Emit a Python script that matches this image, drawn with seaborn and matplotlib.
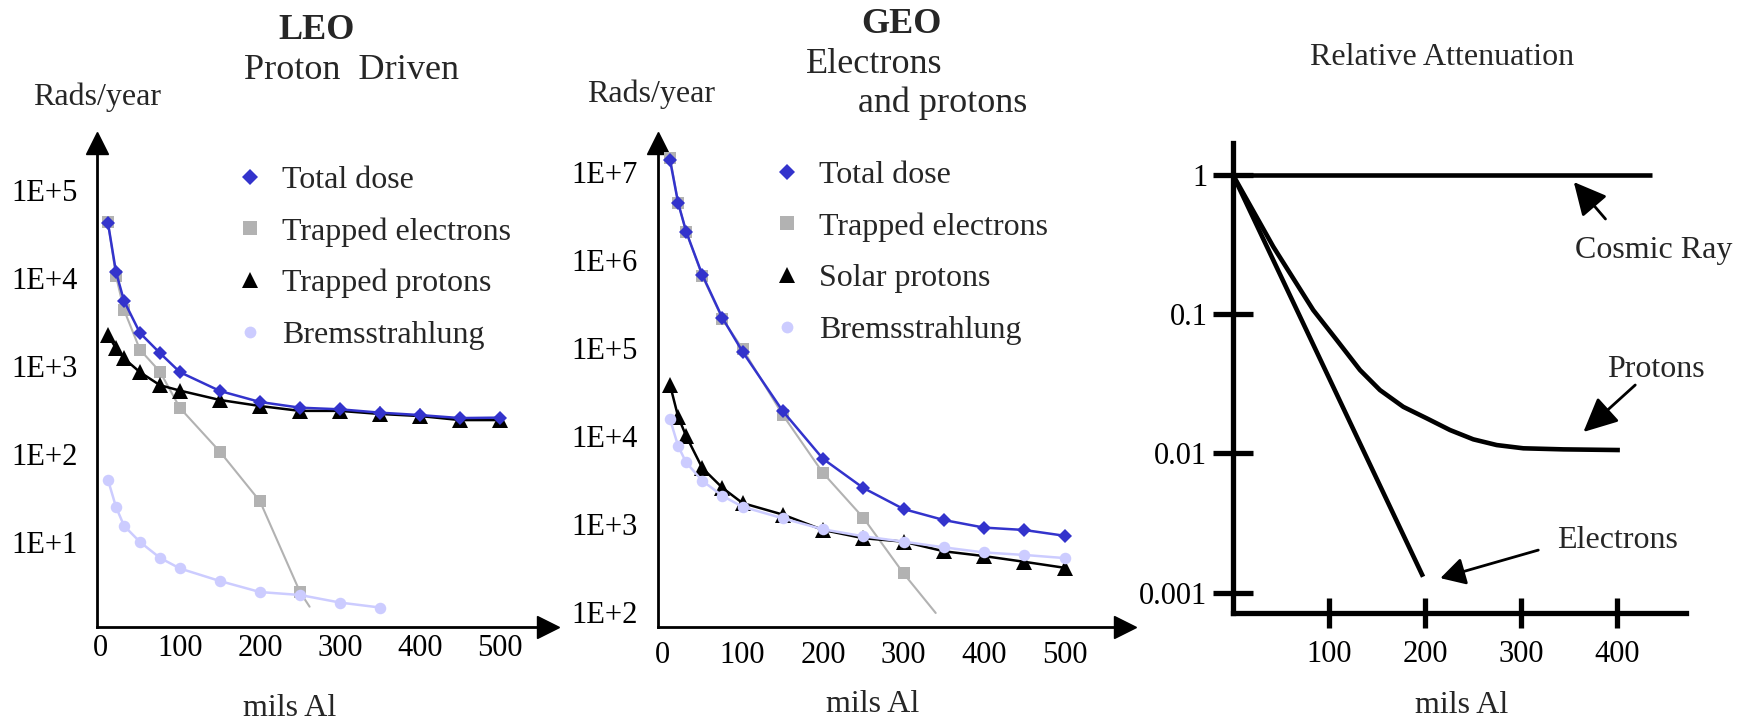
import numpy as np
import matplotlib
matplotlib.use("Agg")
import matplotlib.pyplot as plt
from matplotlib.lines import Line2D
import seaborn as sns

# ---------------- data ----------------
mils = [10, 20, 30, 50, 75, 100, 150, 200, 250, 300, 350, 400, 450, 500]

leo_total = [42000, 11700, 5500, 2370, 1400, 850, 520, 390, 336, 322, 295, 277, 256, 259]
leo_trap_e_x = [10, 20, 30, 50, 75, 100, 150, 200, 250, 262]
leo_trap_e = [43000, 10500, 4350, 1530, 860, 333, 106, 29, 2.7, 1.84]
leo_trap_p = [2250, 1590, 1220, 850, 605, 525, 411, 351, 309, 309, 285, 270, 243, 243]
leo_brems_x = [10, 20, 30, 50, 75, 100, 150, 200, 250, 300, 350]
leo_brems = [50.7, 25, 15.3, 10, 6.6, 5.0, 3.6, 2.7, 2.5, 2.05, 1.8]

geo_total = [1.36e7, 4.47e6, 2.1e6, 6.8e5, 2.2e5, 9.1e4, 1.92e4, 5500, 2570, 1480, 1110, 910, 855, 735]
geo_trap_e_x = [10, 20, 30, 50, 75, 100, 150, 200, 250, 300, 340]
geo_trap_e = [1.45e7, 4.5e6, 2.1e6, 6.6e5, 2.15e5, 9.8e4, 1.74e4, 3800, 1180, 275, 97.5]
geo_solar_p = [38000, 16600, 10000, 4330, 2580, 1730, 1280, 855, 690, 630, 490, 432, 372, 318]
geo_brems = [15500, 7700, 5000, 3100, 2090, 1570, 1160, 870, 725, 630, 543, 475, 445, 410]

leo_yticks = [1e1, 1e2, 1e3, 1e4, 1e5]
leo_yticklabels = ["1E+1", "1E+2", "1E+3", "1E+4", "1E+5"]
geo_yticks = [1e2, 1e3, 1e4, 1e5, 1e6, 1e7]
geo_yticklabels = ["1E+2", "1E+3", "1E+4", "1E+5", "1E+6", "1E+7"]
dose_xticks = [0, 100, 200, 300, 400, 500]

att_cosmic_x = [20, 436]
att_cosmic = [1, 1]
att_electron_x = [0, 198]
att_electron = [1, 0.0013]
att_proton_x = [0, 42, 83.6, 108, 132.3, 153.1, 177.4, 201.8, 226, 250.3, 274.7, 302.4, 344, 403]
att_proton = [1, 0.305, 0.107, 0.0653, 0.0397, 0.0285, 0.0216, 0.01786, 0.01472, 0.01262,
              0.01148, 0.01088, 0.01069, 0.01057]
att_yticks = [1, 0.1, 0.01, 0.001]
att_yticklabels = ["1", "0.1", "0.01", "0.001"]
att_xticks = [100, 200, 300, 400]

legend_leo = ["Total dose", "Trapped electrons", "Trapped protons", "Bremsstrahlung"]
legend_geo = ["Total dose", "Trapped electrons", "Solar protons", "Bremsstrahlung"]

# ---------------- style ----------------
sns.set_theme(style="white")
plt.rcParams["font.family"] = ["Liberation Serif", "DejaVu Serif"]
plt.rcParams["axes.unicode_minus"] = False

BLUE = "#3333CC"
GRAY = "#B2B2B2"
LAV = "#CCCCFF"
BLACK = "#000000"

W, H = 1747, 721
fig = plt.figure(figsize=(W / 100, H / 100), dpi=100)


def rect(x0, x1, y0, y1):
    return [x0 / W, 1 - y1 / H, (x1 - x0) / W, (y1 - y0) / H]


def fx(px):
    return px / W


def fy(py):
    return 1 - py / H


def series(ax, x, y, color, marker, ms, lw, markevery=None):
    kw = {}
    if markevery is not None:
        kw["markevery"] = markevery
    sns.lineplot(x=x, y=y, ax=ax, color=color, marker=marker, markersize=ms,
                 markeredgewidth=0, linewidth=lw, legend=False, errorbar=None,
                 sort=False, **kw)


def dose_axes(ax, xlim, ylim, yticks, yticklabels, xpad):
    ax.set_yscale("log")
    ax.set_xlim(*xlim)
    ax.set_ylim(*ylim)
    ax.set_facecolor("none")
    for s in ["top", "right"]:
        ax.spines[s].set_visible(False)
    for s in ["left", "bottom"]:
        ax.spines[s].set_color("black")
        ax.spines[s].set_linewidth(2.0)
    ax.set_yticks(yticks)
    ax.set_yticklabels(yticklabels)
    ax.yaxis.set_minor_locator(matplotlib.ticker.NullLocator())
    ax.set_xticks(dose_xticks)
    ax.set_xticklabels([str(v) for v in dose_xticks])
    ax.tick_params(axis="y", length=0, pad=14, labelsize=22, colors="black")
    ax.tick_params(axis="x", length=0, pad=xpad, labelsize=22, colors="black")
    ax.grid(False)
    ax.plot(1, 0, ">", color="black", ms=15.5, transform=ax.transAxes, clip_on=False)
    ax.plot(0, 1, "^", color="black", ms=15.5, transform=ax.transAxes, clip_on=False)


def legend_handles():
    return [
        Line2D([], [], marker="D", color=BLUE, linestyle="none", markersize=7.8, markeredgewidth=0),
        Line2D([], [], marker="s", color=GRAY, linestyle="none", markersize=9.5, markeredgewidth=0),
        Line2D([], [], marker="^", color=BLACK, linestyle="none", markersize=11, markeredgewidth=0),
        Line2D([], [], marker="o", color=LAV, linestyle="none", markersize=8.5, markeredgewidth=0),
    ]


# ---------------- LEO panel ----------------
ax1 = fig.add_axes(rect(97, 548, 143, 627))
dose_axes(ax1, ((97 - 100) / 0.8, (548 - 100) / 0.8),
          (10 ** (5 - (627 - 190) / 88), 10 ** (5 + (190 - 143) / 88)),
          leo_yticks, leo_yticklabels, 5)
series(ax1, leo_trap_e_x, leo_trap_e, GRAY, "s", 9, 1.5, markevery=list(range(len(leo_trap_e_x) - 1)))
series(ax1, mils, leo_trap_p, BLACK, "^", 11, 1.8)
series(ax1, leo_brems_x, leo_brems, LAV, "o", 8.3, 1.8)
series(ax1, mils, leo_total, BLUE, "D", 7.6, 1.8)
ax1.legend(legend_handles(), legend_leo, loc="upper left",
           bbox_to_anchor=(fx(234), fy(165.5)), bbox_transform=fig.transFigure,
           frameon=False, fontsize=23, handlelength=1.0, handletextpad=0.5,
           labelspacing=0.695, borderpad=0, borderaxespad=0)

fig.text(fx(317), fy(39), "LEO", ha="center", va="baseline", fontsize=26, fontweight="bold")
fig.text(fx(244), fy(79), "Proton  Driven", ha="left", va="baseline", fontsize=26)
fig.text(fx(33), fy(105), "Rads/year", ha="left", va="baseline", fontsize=23)
fig.text(fx(290), fy(716), "mils Al", ha="center", va="baseline", fontsize=23)

# ---------------- GEO panel ----------------
ax2 = fig.add_axes(rect(657.5, 1125, 143, 627))
dose_axes(ax2, ((657.5 - 662) / 0.805, (1125 - 662) / 0.805),
          (10 ** (7 - (627 - 172) / 88), 10 ** (7 + (172 - 143) / 88)),
          geo_yticks, geo_yticklabels, 10)
series(ax2, geo_trap_e_x, geo_trap_e, GRAY, "s", 9, 1.5, markevery=list(range(len(geo_trap_e_x) - 1)))
series(ax2, mils, geo_solar_p, BLACK, "^", 11, 1.8)
series(ax2, mils, geo_brems, LAV, "o", 8.3, 1.8)
series(ax2, mils, geo_total, BLUE, "D", 7.6, 1.8)
ax2.legend(legend_handles(), legend_geo, loc="upper left",
           bbox_to_anchor=(fx(771), fy(160.5)), bbox_transform=fig.transFigure,
           frameon=False, fontsize=23, handlelength=1.0, handletextpad=0.5,
           labelspacing=0.695, borderpad=0, borderaxespad=0)

fig.text(fx(901), fy(33), "GEO", ha="center", va="baseline", fontsize=26, fontweight="bold")
fig.text(fx(806), fy(73), "Electrons", ha="left", va="baseline", fontsize=26)
fig.text(fx(858), fy(112), "and protons", ha="left", va="baseline", fontsize=26)
fig.text(fx(587), fy(102), "Rads/year", ha="left", va="baseline", fontsize=23)
fig.text(fx(873), fy(712), "mils Al", ha="center", va="baseline", fontsize=23)

# ---------------- Relative attenuation panel ----------------
ax3 = fig.add_axes(rect(1233, 1686, 143, 613))
ax3.set_yscale("log")
ax3.set_xlim(0, (1686 - 1233) / 0.96)
ax3.set_ylim(10 ** (-(613 - 175) / 139.2), 10 ** ((175 - 143) / 139.2))
ax3.set_facecolor("none")
for s in ["top", "right"]:
    ax3.spines[s].set_visible(False)
for s in ["left", "bottom"]:
    ax3.spines[s].set_color("black")
    ax3.spines[s].set_linewidth(3.8)
ax3.set_yticks(att_yticks)
ax3.set_yticklabels(att_yticklabels)
ax3.yaxis.set_minor_locator(matplotlib.ticker.NullLocator())
ax3.set_xticks(att_xticks)
ax3.set_xticklabels([str(v) for v in att_xticks])
ax3.tick_params(axis="y", direction="inout", length=28.8, width=3.8, pad=4,
                labelsize=22, colors="black", left=True)
ax3.tick_params(axis="x", direction="inout", length=22.3, width=3.8, pad=8,
                labelsize=22, colors="black", bottom=True)
ax3.grid(False)

for xs, ys in [(att_cosmic_x, att_cosmic), (att_electron_x, att_electron), (att_proton_x, att_proton)]:
    sns.lineplot(x=xs, y=ys, ax=ax3, color="black", linewidth=3.3, legend=False,
                 errorbar=None, sort=False)
    ax3.lines[-1].set_solid_capstyle("butt")
    ax3.lines[-1].set_solid_joinstyle("round")

arrow_kw = dict(color="black", lw=2.0, shrinkA=0, shrinkB=0)
ax3.annotate("", xy=(355, 0.89), xytext=(388, 0.483),
             arrowprops=dict(arrowstyle="-|>,head_length=1.0,head_width=0.5", mutation_scale=20, **arrow_kw))
ax3.annotate("", xy=(365, 0.01425), xytext=(419, 0.031),
             arrowprops=dict(arrowstyle="-|>,head_length=1.05,head_width=0.5", mutation_scale=20, **arrow_kw))
ax3.annotate("", xy=(216, 0.00127), xytext=(318, 0.00202),
             arrowprops=dict(arrowstyle="-|>,head_length=0.75,head_width=0.42", mutation_scale=20, **arrow_kw))

fig.text(fx(1310), fy(65), "Relative Attenuation", ha="left", va="baseline", fontsize=23)
fig.text(fx(1575), fy(258), "Cosmic Ray", ha="left", va="baseline", fontsize=23)
fig.text(fx(1607), fy(377), "Protons", ha="left", va="baseline", fontsize=23)
fig.text(fx(1557), fy(548), "Electrons", ha="left", va="baseline", fontsize=23)
fig.text(fx(1462), fy(713), "mils Al", ha="center", va="baseline", fontsize=23)

fig.savefig("out.png", dpi=100, facecolor="white")
